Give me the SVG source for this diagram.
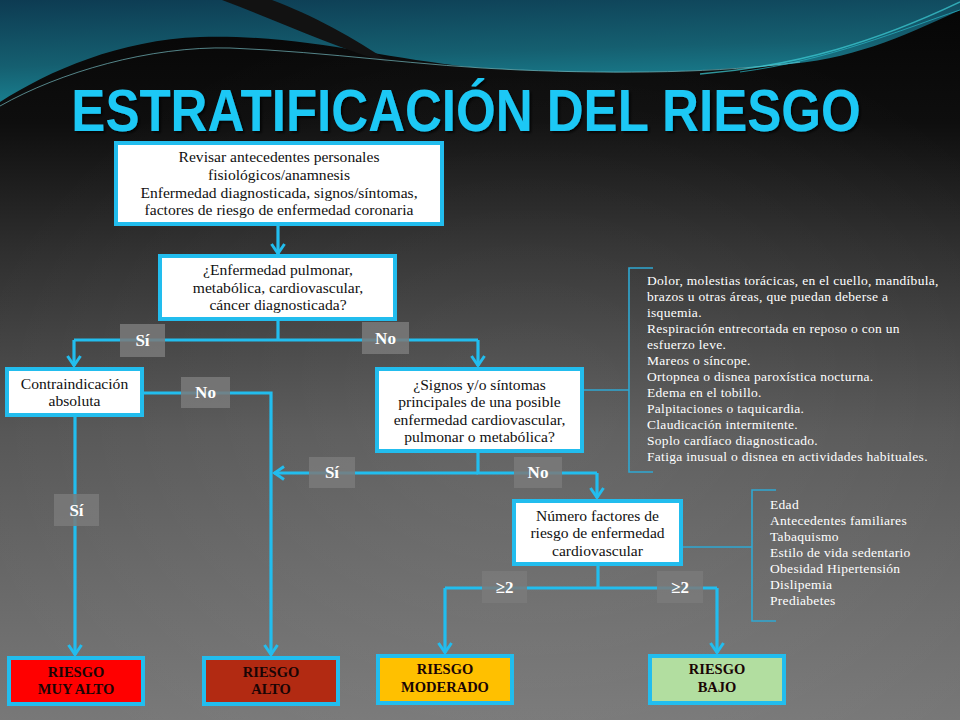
<svg xmlns="http://www.w3.org/2000/svg" width="960" height="720" viewBox="0 0 960 720">
<defs>
<linearGradient id="bg" x1="0" y1="0" x2="0" y2="1">
<stop offset="0" stop-color="#050505"/>
<stop offset="0.17" stop-color="#0e0e0e"/>
<stop offset="0.35" stop-color="#2f2f2f"/>
<stop offset="0.6" stop-color="#565656"/>
<stop offset="0.85" stop-color="#6c6c6c"/>
<stop offset="1" stop-color="#787878"/>
</linearGradient>
<radialGradient id="glow" cx="0.55" cy="0.6" r="0.6">
<stop offset="0" stop-color="#ffffff" stop-opacity="0.08"/>
<stop offset="1" stop-color="#ffffff" stop-opacity="0"/>
</radialGradient>
<linearGradient id="teal" x1="0" y1="0" x2="0.3" y2="1">
<stop offset="0" stop-color="#0d3b52"/>
<stop offset="0.6" stop-color="#155f70"/>
<stop offset="1" stop-color="#1a8595"/>
</linearGradient>
<filter id="sh" x="-10%" y="-40%" width="120%" height="180%">
<feDropShadow dx="2" dy="2" stdDeviation="1" flood-color="#000000" flood-opacity="0.7"/>
</filter>
<marker id="arr" viewBox="-12 -8 14 16" refX="0" refY="0" markerWidth="14" markerHeight="16" markerUnits="userSpaceOnUse" orient="auto">
<path d="M-10,-6.5 L-0.5,0 L-10,6.5" fill="none" stroke="#22bdee" stroke-width="3"/>
</marker>
<style>
.box{fill:#ffffff;stroke:#22bdee;stroke-width:4}
.res{stroke:#22bdee;stroke-width:4}
.t{font-family:"Liberation Serif","DejaVu Serif",serif;font-size:15.6px;fill:#111;text-anchor:middle}
.rt{font-family:"Liberation Serif","DejaVu Serif",serif;font-size:14.5px;font-weight:bold;fill:#1a0505;text-anchor:middle}
.lb{fill:#7a7a7a;fill-opacity:0.85}
.lt{font-family:"Liberation Serif","DejaVu Serif",serif;font-size:17px;font-weight:bold;fill:#ffffff;text-anchor:middle}
.li{font-family:"Liberation Serif","DejaVu Serif",serif;font-size:13.5px;letter-spacing:0.3px;fill:#ffffff}
.con{fill:none;stroke:#22bdee;stroke-width:3.2}
.br{fill:none;stroke:#2fa8d2;stroke-width:1.6}
</style>
</defs>

<g id="background">
<rect width="960" height="720" fill="url(#bg)"/>
<rect width="960" height="720" fill="url(#glow)"/>
<path d="M0,0 H960 V10 C900,38 850,60 780,65 C700,72 600,76 470,67 C380,58 300,34 200,37 C120,40 50,70 0,102 Z" fill="url(#teal)"/>
<path d="M222,0 C280,22 335,48 392,64 C355,38 310,14 272,0 Z" fill="#121212"/>
<path d="M0,106 C60,72 150,46 230,48 C330,52 420,66 520,70 C620,74 720,73 800,62" fill="none" stroke="#86d6dc" stroke-width="1" stroke-opacity="0.6"/>
<path d="M700,74 C800,66 880,40 960,2" fill="none" stroke="#3fd0d8" stroke-width="1.5" stroke-opacity="0.7"/>
<path d="M740,72 C830,60 900,30 960,10" fill="none" stroke="#2ab8c8" stroke-width="1" stroke-opacity="0.7"/>
</g>

<g id="title" filter="url(#sh)">
<text transform="translate(466,131) scale(0.851,1)" x="0" y="0" font-family="'Liberation Sans','Open Sans',sans-serif" font-size="60" font-weight="bold" fill="#1ec8f5" text-anchor="middle">ESTRATIFICACIÓN DEL RIESGO</text>
</g>

<g id="connectors">
<path class="con" d="M278,224 V254" marker-end="url(#arr)"/>
<path class="con" d="M278,319 V340 M74,340 H478"/>
<path class="con" d="M74,340 V366" marker-end="url(#arr)"/>
<path class="con" d="M478,340 V366" marker-end="url(#arr)"/>
<path class="con" d="M142,393 H271 V655" marker-end="url(#arr)"/>
<path class="con" d="M75,415 V655" marker-end="url(#arr)"/>
<path class="con" d="M478,451 V473 H597"/>
<path class="con" d="M478,473 H274" marker-end="url(#arr)"/>
<path class="con" d="M597,473 V498" marker-end="url(#arr)"/>
<path class="con" d="M598,564 V588 M445,588 H717"/>
<path class="con" d="M445,588 V653" marker-end="url(#arr)"/>
<path class="con" d="M717,588 V653" marker-end="url(#arr)"/>
<path class="br" d="M582,390 H629 M653,268 H629 V472 H653"/>
<path class="br" d="M681,547 H752 M776,490 H752 V621 H776"/>
</g>

<g id="node-revisar">
<rect class="box" x="116" y="143" width="326" height="81"/>
<text class="t" x="279" y="162">Revisar antecedentes personales</text>
<text class="t" x="279" y="179.5">fisiológicos/anamnesis</text>
<text class="t" x="279" y="197.5">Enfermedad diagnosticada, signos/síntomas,</text>
<text class="t" x="279" y="215">factores de riesgo de enfermedad coronaria</text>
</g>

<g id="node-enfermedad">
<rect class="box" x="160" y="256" width="235" height="63"/>
<text class="t" x="278" y="275">¿Enfermedad pulmonar,</text>
<text class="t" x="278" y="292.5">metabólica, cardiovascular,</text>
<text class="t" x="278" y="309.5">cáncer diagnosticada?</text>
</g>

<g id="node-contraindicacion">
<rect class="box" x="7" y="369" width="135" height="46"/>
<text class="t" x="74.5" y="388.5">Contraindicación</text>
<text class="t" x="74.5" y="405.5">absoluta</text>
</g>

<g id="node-signos">
<rect class="box" x="377" y="369" width="205" height="82"/>
<text class="t" x="479.5" y="389.5">¿Signos y/o síntomas</text>
<text class="t" x="479.5" y="407">principales de una posible</text>
<text class="t" x="479.5" y="424.5">enfermedad cardiovascular,</text>
<text class="t" x="479.5" y="442">pulmonar o metabólica?</text>
</g>

<g id="node-numero">
<rect class="box" x="514" y="501" width="167" height="63"/>
<text class="t" x="597.5" y="520.5">Número factores de</text>
<text class="t" x="597.5" y="537.5">riesgo de enfermedad</text>
<text class="t" x="597.5" y="555.5">cardiovascular</text>
</g>

<g id="node-sintomas-lista">
<text class="li" x="647" y="285">Dolor, molestias torácicas, en el cuello, mandíbula,</text>
<text class="li" x="647" y="301">brazos u otras áreas, que puedan deberse a</text>
<text class="li" x="647" y="317">isquemia.</text>
<text class="li" x="647" y="333">Respiración entrecortada en reposo o con un</text>
<text class="li" x="647" y="349">esfuerzo leve.</text>
<text class="li" x="647" y="365">Mareos o síncope.</text>
<text class="li" x="647" y="381">Ortopnea o disnea paroxística nocturna.</text>
<text class="li" x="647" y="397">Edema en el tobillo.</text>
<text class="li" x="647" y="413">Palpitaciones o taquicardia.</text>
<text class="li" x="647" y="429">Claudicación intermitente.</text>
<text class="li" x="647" y="445">Soplo cardíaco diagnosticado.</text>
<text class="li" x="647" y="461">Fatiga inusual o disnea en actividades habituales.</text>
</g>

<g id="node-factores-lista">
<text class="li" x="770" y="509">Edad</text>
<text class="li" x="770" y="525">Antecedentes familiares</text>
<text class="li" x="770" y="541">Tabaquismo</text>
<text class="li" x="770" y="557">Estilo de vida sedentario</text>
<text class="li" x="770" y="573">Obesidad Hipertensión</text>
<text class="li" x="770" y="589">Dislipemia</text>
<text class="li" x="770" y="605">Prediabetes</text>
</g>

<g id="labels">
<rect class="lb" x="120" y="324" width="45" height="33"/>
<text class="lt" x="142.5" y="346">Sí</text>
<rect class="lb" x="362" y="322" width="47" height="32"/>
<text class="lt" x="385.5" y="344">No</text>
<rect class="lb" x="181" y="377" width="49" height="31"/>
<text class="lt" x="205.5" y="398">No</text>
<rect class="lb" x="309" y="457" width="46" height="31"/>
<text class="lt" x="332" y="478">Sí</text>
<rect class="lb" x="514" y="457" width="48" height="31"/>
<text class="lt" x="538" y="478">No</text>
<rect class="lb" x="54" y="494" width="45" height="32"/>
<text class="lt" x="76.5" y="516">Sí</text>
<rect class="lb" x="482" y="571" width="45" height="32"/>
<text class="lt" x="504.5" y="593">≥2</text>
<rect class="lb" x="657" y="571" width="46" height="32"/>
<text class="lt" x="680" y="593">≥2</text>
</g>

<g id="node-muy-alto">
<rect class="res" x="9" y="658" width="134" height="46" fill="#ff0000"/>
<text class="rt" x="76" y="677">RIESGO</text>
<text class="rt" x="76" y="694">MUY ALTO</text>
</g>

<g id="node-alto">
<rect class="res" x="204" y="658" width="134" height="46" fill="#b22a12"/>
<text class="rt" x="271" y="677">RIESGO</text>
<text class="rt" x="271" y="694">ALTO</text>
</g>

<g id="node-moderado">
<rect class="res" x="378" y="656" width="134" height="47" fill="#ffc000"/>
<text class="rt" x="445" y="674">RIESGO</text>
<text class="rt" x="445" y="692">MODERADO</text>
</g>

<g id="node-bajo">
<rect class="res" x="650" y="656" width="134" height="47" fill="#b2dea0"/>
<text class="rt" x="717" y="674">RIESGO</text>
<text class="rt" x="717" y="692">BAJO</text>
</g>
</svg>
